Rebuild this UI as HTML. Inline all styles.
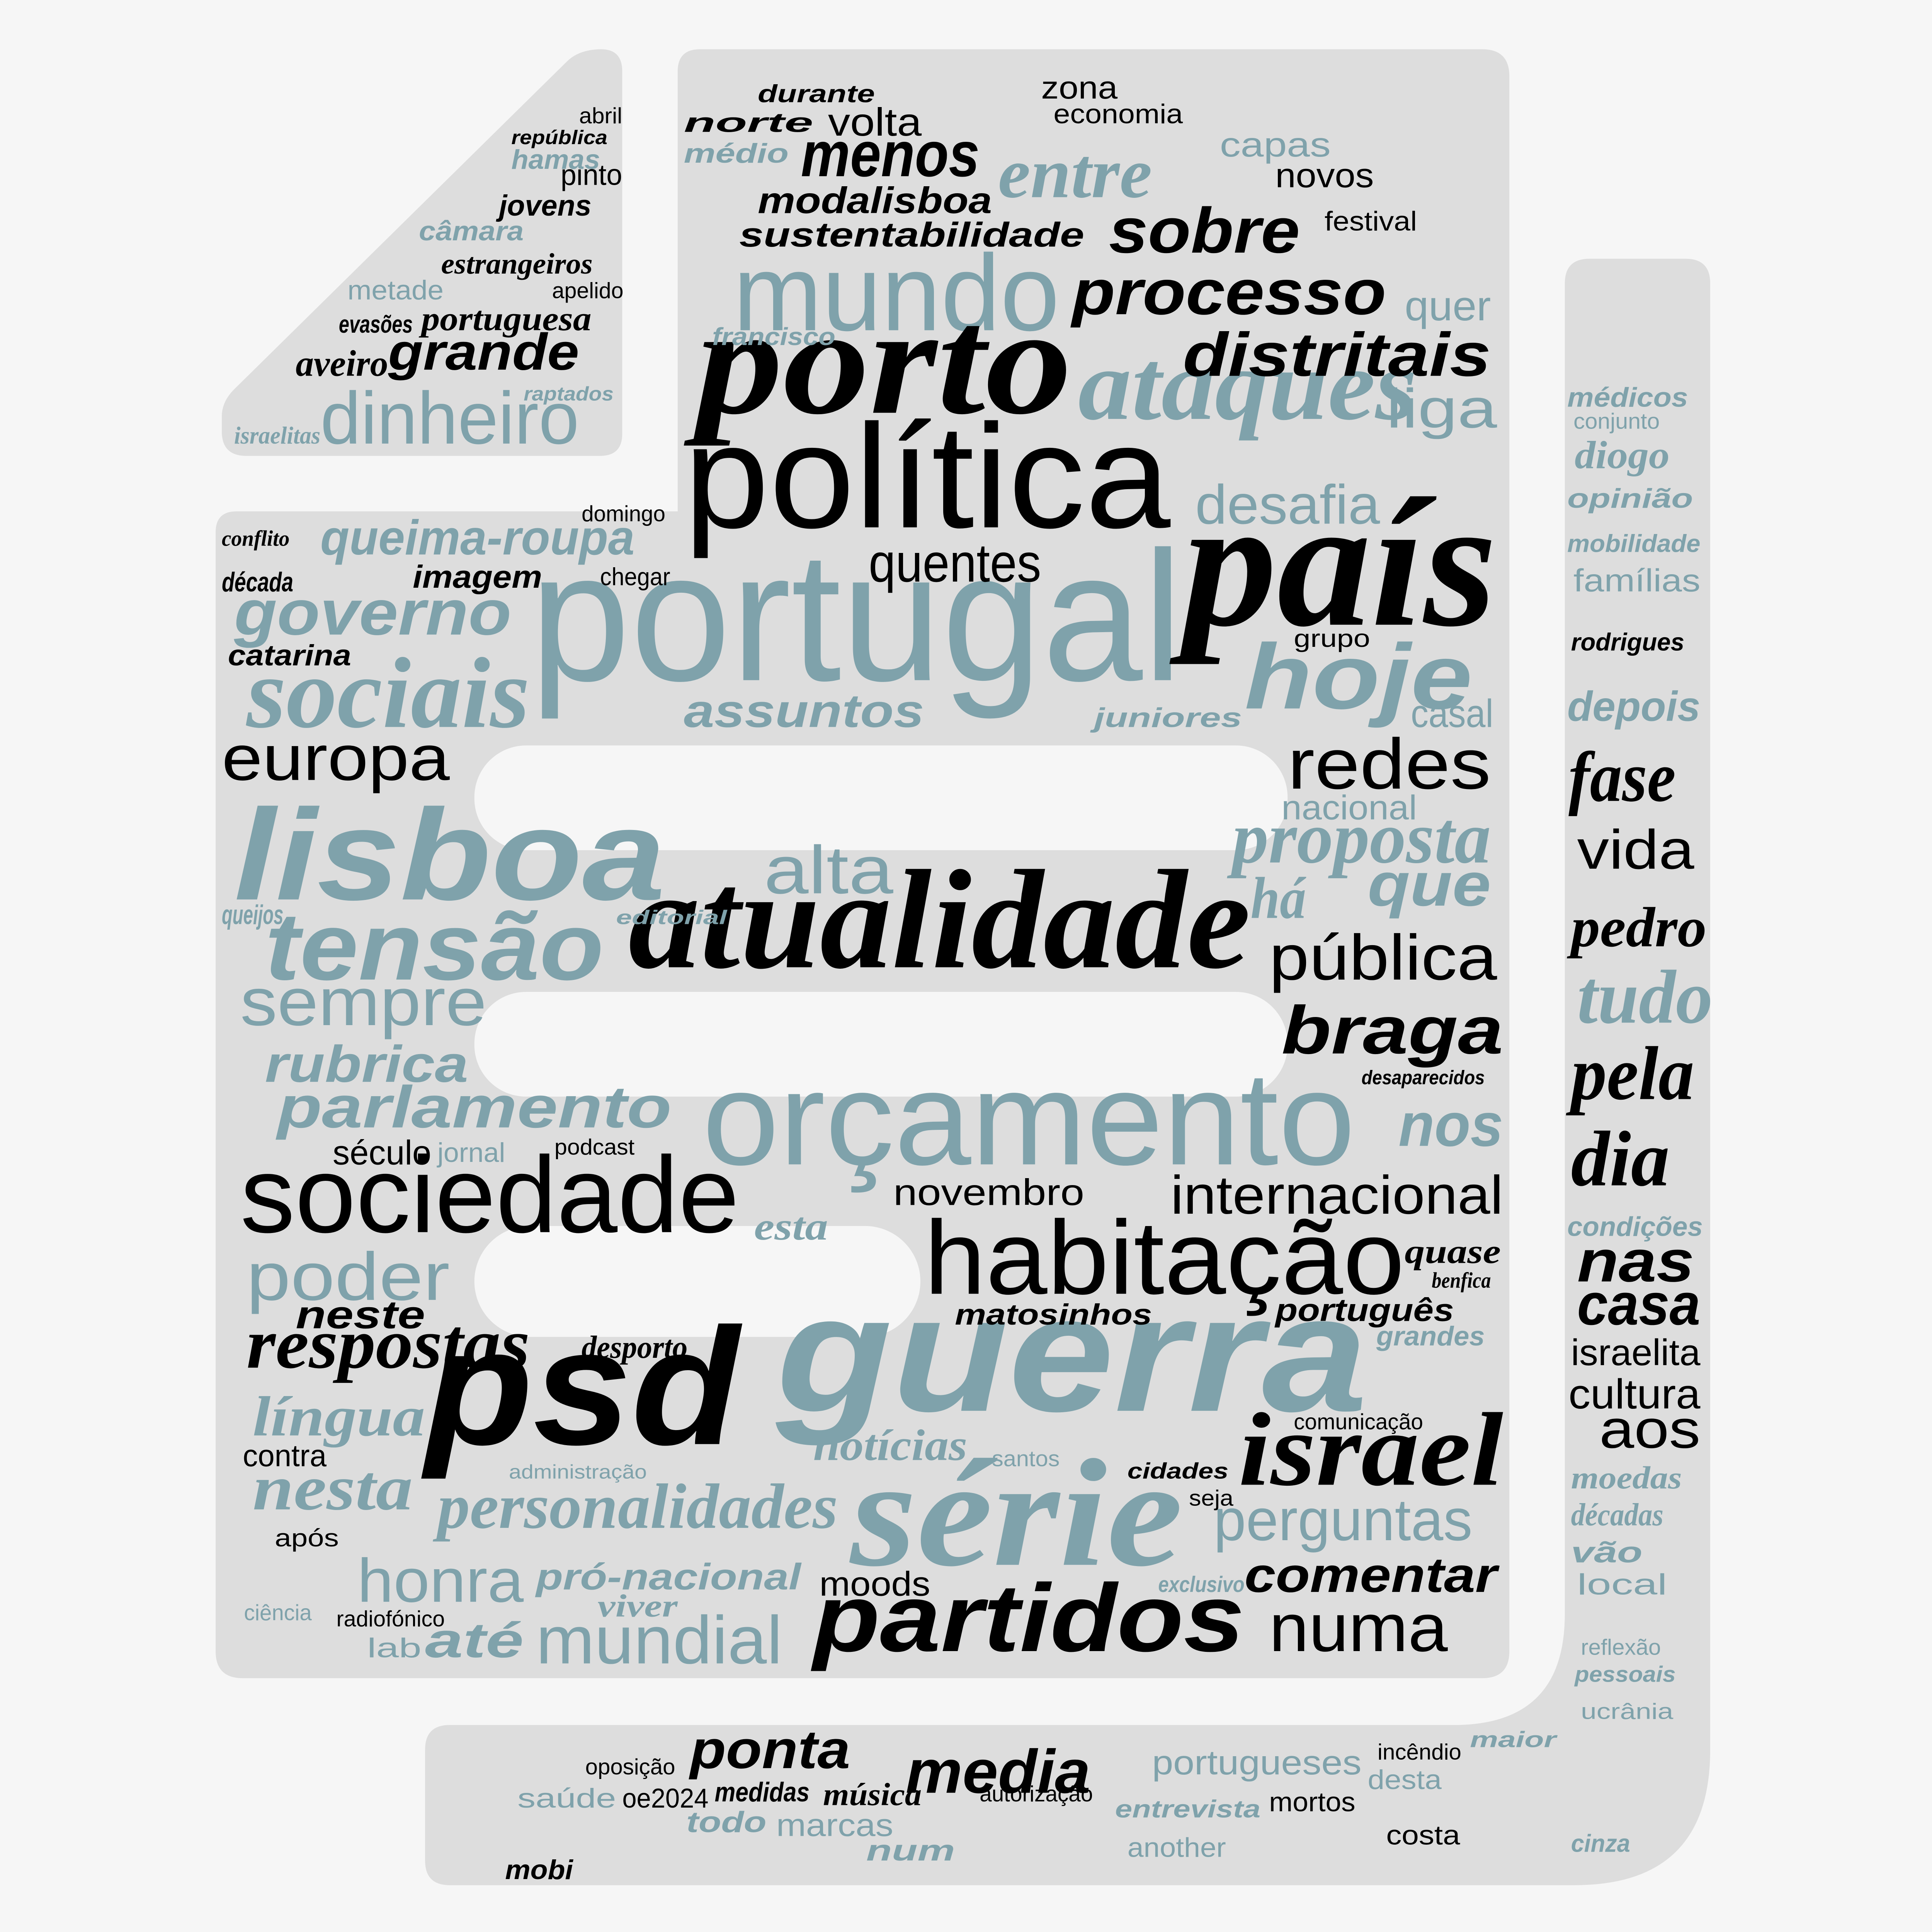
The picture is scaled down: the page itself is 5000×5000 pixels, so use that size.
<!DOCTYPE html>
<html>
<head>
<meta charset="utf-8">
<style>
html,body{margin:0;padding:0;background:#f6f6f6;}
svg{display:block;}
text{font-family:"Liberation Sans",sans-serif;}
.r{font-weight:normal;font-style:normal;}
.s{font-weight:bold;font-style:italic;font-family:"Liberation Serif",serif;}
.h{font-weight:bold;font-style:italic;}
.k{fill:#000;}
.u{fill:#7fa2ab;}
</style>
</head>
<body>
<svg width="5000" height="5000" viewBox="0 0 1568 1568">
<rect x="0" y="0" width="1568" height="1568" fill="#f6f6f6"/>
<g fill="#dddddd">
<path d="M488 40 Q505 40 505 58 L505 352 Q505 370 487 370 L200 370 Q180 370 180 350 L180 338 Q180 326 190 316 L460 50 Q470 40 488 40 Z"/>
<path d="M568 40 L1203 40 Q1225 40 1225 62 L1225 1340 Q1225 1362 1203 1362 L197 1362 Q175 1362 175 1340 L175 432 Q175 415 192 415 L550 415 L550 58 Q550 40 568 40 Z"/>
<path d="M1290 210 L1368 210 Q1388 210 1388 230 L1388 1420 Q1388 1530 1278 1530 L365 1530 Q345 1530 345 1510 L345 1420 Q345 1400 365 1400 L1180 1400 Q1270 1400 1270 1310 L1270 230 Q1270 210 1290 210 Z"/>
</g>
<g fill="#f6f6f6">
<rect x="385" y="605" width="660" height="85" rx="42"/>
<rect x="385" y="805" width="660" height="85" rx="42"/>
<rect x="385" y="995" width="362" height="90" rx="45"/>
</g>
<g>
<text class="r u" x="430" y="552" font-size="150" textLength="530" lengthAdjust="spacingAndGlyphs">portugal</text>
<text class="r k" x="555" y="428" font-size="120" textLength="395" lengthAdjust="spacingAndGlyphs">política</text>
<text class="r u" x="595" y="268" font-size="88" textLength="265" lengthAdjust="spacingAndGlyphs">mundo</text>
<text class="r k" x="195" y="1000" font-size="88" textLength="405" lengthAdjust="spacingAndGlyphs">sociedade</text>
<text class="r k" x="750" y="1050" font-size="85" textLength="390" lengthAdjust="spacingAndGlyphs">habitação</text>
<text class="r u" x="570" y="945" font-size="108" textLength="530" lengthAdjust="spacingAndGlyphs">orçamento</text>
<text class="r u" x="260" y="360" font-size="60" textLength="210" lengthAdjust="spacingAndGlyphs">dinheiro</text>
<text class="r k" x="180" y="633" font-size="52" textLength="185" lengthAdjust="spacingAndGlyphs">europa</text>
<text class="r k" x="1045" y="640" font-size="58" textLength="165" lengthAdjust="spacingAndGlyphs">redes</text>
<text class="r k" x="1030" y="795" font-size="52" textLength="185" lengthAdjust="spacingAndGlyphs">pública</text>
<text class="r k" x="950" y="985" font-size="44" textLength="270" lengthAdjust="spacingAndGlyphs">internacional</text>
<text class="r u" x="195" y="832" font-size="55" textLength="200" lengthAdjust="spacingAndGlyphs">sempre</text>
<text class="r u" x="200" y="1055" font-size="55" textLength="165" lengthAdjust="spacingAndGlyphs">poder</text>
<text class="r u" x="620" y="725" font-size="55" textLength="105" lengthAdjust="spacingAndGlyphs">alta</text>
<text class="r k" x="705" y="472" font-size="44" textLength="140" lengthAdjust="spacingAndGlyphs">quentes</text>
<text class="r u" x="970" y="425" font-size="45" textLength="150" lengthAdjust="spacingAndGlyphs">desafia</text>
<text class="r u" x="1125" y="347" font-size="45" textLength="90" lengthAdjust="spacingAndGlyphs">liga</text>
<text class="r u" x="985" y="1250" font-size="48" textLength="210" lengthAdjust="spacingAndGlyphs">perguntas</text>
<text class="r u" x="290" y="1300" font-size="50" textLength="135" lengthAdjust="spacingAndGlyphs">honra</text>
<text class="r u" x="435" y="1350" font-size="55" textLength="200" lengthAdjust="spacingAndGlyphs">mundial</text>
<text class="r k" x="1030" y="1340" font-size="55" textLength="145" lengthAdjust="spacingAndGlyphs">numa</text>
<text class="r k" x="725" y="978" font-size="30" textLength="155" lengthAdjust="spacingAndGlyphs">novembro</text>
<text class="r k" x="1280" y="705" font-size="45" textLength="95" lengthAdjust="spacingAndGlyphs">vida</text>
<text class="r k" x="1273" y="1143" font-size="34" textLength="107" lengthAdjust="spacingAndGlyphs">cultura</text>
<text class="r k" x="1298" y="1175" font-size="44" textLength="82" lengthAdjust="spacingAndGlyphs">aos</text>
<text class="r k" x="1275" y="1108" font-size="30" textLength="105" lengthAdjust="spacingAndGlyphs">israelita</text>
<text class="r k" x="672" y="110" font-size="32" textLength="76" lengthAdjust="spacingAndGlyphs">volta</text>
<text class="r u" x="990" y="127" font-size="28" textLength="90" lengthAdjust="spacingAndGlyphs">capas</text>
<text class="r k" x="1035" y="152" font-size="28" textLength="80" lengthAdjust="spacingAndGlyphs">novos</text>
<text class="r u" x="1140" y="260" font-size="34" textLength="70" lengthAdjust="spacingAndGlyphs">quer</text>
<text class="r u" x="1145" y="590" font-size="32" textLength="67" lengthAdjust="spacingAndGlyphs">casal</text>
<text class="r u" x="1040" y="665" font-size="28" textLength="110" lengthAdjust="spacingAndGlyphs">nacional</text>
<text class="r k" x="270" y="945" font-size="28" textLength="80" lengthAdjust="spacingAndGlyphs">século</text>
<text class="r u" x="355" y="943" font-size="22" textLength="55" lengthAdjust="spacingAndGlyphs">jornal</text>
<text class="r k" x="197" y="1190" font-size="25" textLength="68" lengthAdjust="spacingAndGlyphs">contra</text>
<text class="r k" x="845" y="80" font-size="26" textLength="62" lengthAdjust="spacingAndGlyphs">zona</text>
<text class="r k" x="855" y="100" font-size="22" textLength="105" lengthAdjust="spacingAndGlyphs">economia</text>
<text class="r k" x="1075" y="187" font-size="22" textLength="75" lengthAdjust="spacingAndGlyphs">festival</text>
<text class="r k" x="1050" y="1160" font-size="18" textLength="105" lengthAdjust="spacingAndGlyphs">comunicação</text>
<text class="r k" x="965" y="1222" font-size="18" textLength="36" lengthAdjust="spacingAndGlyphs">seja</text>
<text class="r k" x="455" y="150" font-size="24" textLength="50" lengthAdjust="spacingAndGlyphs">pinto</text>
<text class="r k" x="470" y="100" font-size="18" textLength="35" lengthAdjust="spacingAndGlyphs">abril</text>
<text class="r k" x="448" y="242" font-size="18" textLength="58" lengthAdjust="spacingAndGlyphs">apelido</text>
<text class="r u" x="282" y="243" font-size="22" textLength="78" lengthAdjust="spacingAndGlyphs">metade</text>
<text class="r k" x="450" y="937" font-size="18" textLength="65" lengthAdjust="spacingAndGlyphs">podcast</text>
<text class="r k" x="665" y="1295" font-size="28" textLength="90" lengthAdjust="spacingAndGlyphs">moods</text>
<text class="r k" x="223" y="1255" font-size="20" textLength="52" lengthAdjust="spacingAndGlyphs">após</text>
<text class="r u" x="198" y="1315" font-size="18" textLength="55" lengthAdjust="spacingAndGlyphs">ciência</text>
<text class="r k" x="273" y="1320" font-size="18" textLength="88" lengthAdjust="spacingAndGlyphs">radiofónico</text>
<text class="r u" x="298" y="1345" font-size="22" textLength="44" lengthAdjust="spacingAndGlyphs">lab</text>
<text class="r u" x="413" y="1200" font-size="16" textLength="112" lengthAdjust="spacingAndGlyphs">administração</text>
<text class="r u" x="805" y="1190" font-size="18" textLength="55" lengthAdjust="spacingAndGlyphs">santos</text>
<text class="r u" x="935" y="1440" font-size="28" textLength="170" lengthAdjust="spacingAndGlyphs">portugueses</text>
<text class="r u" x="420" y="1467" font-size="22" textLength="80" lengthAdjust="spacingAndGlyphs">saúde</text>
<text class="r k" x="505" y="1467" font-size="22" textLength="70" lengthAdjust="spacingAndGlyphs">oe2024</text>
<text class="r u" x="630" y="1490" font-size="26" textLength="95" lengthAdjust="spacingAndGlyphs">marcas</text>
<text class="r k" x="1030" y="1470" font-size="22" textLength="70" lengthAdjust="spacingAndGlyphs">mortos</text>
<text class="r u" x="1110" y="1452" font-size="22" textLength="60" lengthAdjust="spacingAndGlyphs">desta</text>
<text class="r u" x="915" y="1507" font-size="22" textLength="80" lengthAdjust="spacingAndGlyphs">another</text>
<text class="r k" x="1125" y="1497" font-size="22" textLength="60" lengthAdjust="spacingAndGlyphs">costa</text>
<text class="r k" x="1118" y="1428" font-size="18" textLength="68" lengthAdjust="spacingAndGlyphs">incêndio</text>
<text class="r k" x="795" y="1462" font-size="18" textLength="92" lengthAdjust="spacingAndGlyphs">autorização</text>
<text class="r k" x="475" y="1440" font-size="18" textLength="73" lengthAdjust="spacingAndGlyphs">oposição</text>
<text class="r k" x="1050" y="525" font-size="20" textLength="62" lengthAdjust="spacingAndGlyphs">grupo</text>
<text class="r k" x="487" y="475" font-size="20" textLength="57" lengthAdjust="spacingAndGlyphs">chegar</text>
<text class="r k" x="472" y="423" font-size="18" textLength="68" lengthAdjust="spacingAndGlyphs">domingo</text>
<text class="r u" x="1277" y="480" font-size="26" textLength="103" lengthAdjust="spacingAndGlyphs">famílias</text>
<text class="r u" x="1277" y="348" font-size="18" textLength="70" lengthAdjust="spacingAndGlyphs">conjunto</text>
<text class="r u" x="1283" y="1395" font-size="18" textLength="75" lengthAdjust="spacingAndGlyphs">ucrânia</text>
<text class="r u" x="1283" y="1343" font-size="18" textLength="65" lengthAdjust="spacingAndGlyphs">reflexão</text>
<text class="r u" x="1280" y="1294" font-size="24" textLength="73" lengthAdjust="spacingAndGlyphs">local</text>

<text class="s k" x="565" y="335" font-size="125" textLength="305" lengthAdjust="spacingAndGlyphs">porto</text>
<text class="s k" x="960" y="507" font-size="150" textLength="255" lengthAdjust="spacingAndGlyphs">país</text>
<text class="s k" x="510" y="785" font-size="115" textLength="505" lengthAdjust="spacingAndGlyphs">atualidade</text>
<text class="h k" x="345" y="1172" font-size="135" textLength="255" lengthAdjust="spacingAndGlyphs">psd</text>
<text class="h u" x="630" y="1145" font-size="135" textLength="480" lengthAdjust="spacingAndGlyphs">guerra</text>
<text class="s u" x="690" y="1270" font-size="125" textLength="270" lengthAdjust="spacingAndGlyphs">série</text>
<text class="h u" x="190" y="730" font-size="105" textLength="350" lengthAdjust="spacingAndGlyphs">lisboa</text>
<text class="h u" x="215" y="795" font-size="78" textLength="275" lengthAdjust="spacingAndGlyphs">tensão</text>
<text class="s u" x="200" y="590" font-size="82" textLength="230" lengthAdjust="spacingAndGlyphs">sociais</text>
<text class="h u" x="1010" y="575" font-size="75" textLength="185" lengthAdjust="spacingAndGlyphs">hoje</text>
<text class="s u" x="875" y="340" font-size="82" textLength="275" lengthAdjust="spacingAndGlyphs">ataques</text>
<text class="h k" x="870" y="255" font-size="52" textLength="255" lengthAdjust="spacingAndGlyphs">processo</text>
<text class="h k" x="960" y="305" font-size="50" textLength="250" lengthAdjust="spacingAndGlyphs">distritais</text>
<text class="h k" x="900" y="205" font-size="52" textLength="155" lengthAdjust="spacingAndGlyphs">sobre</text>
<text class="s u" x="810" y="160" font-size="58" textLength="125" lengthAdjust="spacingAndGlyphs">entre</text>
<text class="h k" x="650" y="143" font-size="52" textLength="145" lengthAdjust="spacingAndGlyphs">menos</text>
<text class="s u" x="1000" y="700" font-size="60" textLength="210" lengthAdjust="spacingAndGlyphs">proposta</text>
<text class="h u" x="1110" y="735" font-size="50" textLength="100" lengthAdjust="spacingAndGlyphs">que</text>
<text class="h k" x="1040" y="855" font-size="55" textLength="180" lengthAdjust="spacingAndGlyphs">braga</text>
<text class="h k" x="660" y="1340" font-size="78" textLength="350" lengthAdjust="spacingAndGlyphs">partidos</text>
<text class="s k" x="1005" y="1205" font-size="85" textLength="215" lengthAdjust="spacingAndGlyphs">israel</text>
<text class="s k" x="200" y="1110" font-size="58" textLength="230" lengthAdjust="spacingAndGlyphs">respostas</text>
<text class="s u" x="355" y="1240" font-size="52" textLength="325" lengthAdjust="spacingAndGlyphs">personalidades</text>
<text class="h k" x="315" y="300" font-size="42" textLength="155" lengthAdjust="spacingAndGlyphs">grande</text>
<text class="h u" x="190" y="515" font-size="52" textLength="225" lengthAdjust="spacingAndGlyphs">governo</text>
<text class="h u" x="260" y="450" font-size="40" textLength="255" lengthAdjust="spacingAndGlyphs">queima-roupa</text>
<text class="h u" x="225" y="915" font-size="48" textLength="320" lengthAdjust="spacingAndGlyphs">parlamento</text>
<text class="h u" x="215" y="878" font-size="42" textLength="165" lengthAdjust="spacingAndGlyphs">rubrica</text>
<text class="s u" x="205" y="1165" font-size="46" textLength="140" lengthAdjust="spacingAndGlyphs">língua</text>
<text class="s u" x="205" y="1225" font-size="52" textLength="130" lengthAdjust="spacingAndGlyphs">nesta</text>
<text class="h u" x="555" y="590" font-size="38" textLength="195" lengthAdjust="spacingAndGlyphs">assuntos</text>
<text class="h k" x="735" y="1455" font-size="50" textLength="150" lengthAdjust="spacingAndGlyphs">media</text>
<text class="h k" x="560" y="1435" font-size="44" textLength="130" lengthAdjust="spacingAndGlyphs">ponta</text>
<text class="s k" x="1273" y="650" font-size="58" textLength="87" lengthAdjust="spacingAndGlyphs">fase</text>
<text class="s k" x="1275" y="768" font-size="46" textLength="110" lengthAdjust="spacingAndGlyphs">pedro</text>
<text class="s u" x="1280" y="830" font-size="62" textLength="110" lengthAdjust="spacingAndGlyphs">tudo</text>
<text class="s k" x="1275" y="892" font-size="62" textLength="100" lengthAdjust="spacingAndGlyphs">pela</text>
<text class="s k" x="1275" y="962" font-size="64" textLength="80" lengthAdjust="spacingAndGlyphs">dia</text>
<text class="h k" x="1280" y="1040" font-size="48" textLength="95" lengthAdjust="spacingAndGlyphs">nas</text>
<text class="h k" x="1280" y="1075" font-size="48" textLength="100" lengthAdjust="spacingAndGlyphs">casa</text>
<text class="h u" x="1135" y="930" font-size="50" textLength="85" lengthAdjust="spacingAndGlyphs">nos</text>
<text class="s u" x="1015" y="745" font-size="48" textLength="45" lengthAdjust="spacingAndGlyphs">há</text>
<text class="h k" x="1010" y="1292" font-size="40" textLength="205" lengthAdjust="spacingAndGlyphs">comentar</text>
<text class="h k" x="615" y="173" font-size="30" textLength="190" lengthAdjust="spacingAndGlyphs">modalisboa</text>
<text class="h k" x="600" y="200" font-size="28" textLength="280" lengthAdjust="spacingAndGlyphs">sustentabilidade</text>
<text class="h u" x="345" y="1345" font-size="40" textLength="80" lengthAdjust="spacingAndGlyphs">até</text>
<text class="h k" x="240" y="1078" font-size="32" textLength="105" lengthAdjust="spacingAndGlyphs">neste</text>
<text class="h k" x="775" y="1075" font-size="24" textLength="160" lengthAdjust="spacingAndGlyphs">matosinhos</text>
<text class="h k" x="1035" y="1072" font-size="26" textLength="145" lengthAdjust="spacingAndGlyphs">português</text>
<text class="s u" x="660" y="1185" font-size="36" textLength="125" lengthAdjust="spacingAndGlyphs">notícias</text>
<text class="h u" x="1272" y="585" font-size="34" textLength="108" lengthAdjust="spacingAndGlyphs">depois</text>
<text class="s u" x="1278" y="380" font-size="32" textLength="77" lengthAdjust="spacingAndGlyphs">diogo</text>
<text class="h k" x="335" y="477" font-size="26" textLength="105" lengthAdjust="spacingAndGlyphs">imagem</text>
<text class="h k" x="185" y="540" font-size="24" textLength="100" lengthAdjust="spacingAndGlyphs">catarina</text>
<text class="h k" x="405" y="175" font-size="24" textLength="75" lengthAdjust="spacingAndGlyphs">jovens</text>
<text class="s k" x="240" y="305" font-size="30" textLength="75" lengthAdjust="spacingAndGlyphs">aveiro</text>
<text class="s k" x="342" y="268" font-size="28" textLength="138" lengthAdjust="spacingAndGlyphs">portuguesa</text>
<text class="h k" x="275" y="270" font-size="20" textLength="60" lengthAdjust="spacingAndGlyphs">evasões</text>
<text class="s k" x="358" y="222" font-size="24" textLength="123" lengthAdjust="spacingAndGlyphs">estrangeiros</text>
<text class="h u" x="340" y="195" font-size="22" textLength="85" lengthAdjust="spacingAndGlyphs">câmara</text>
<text class="h u" x="415" y="137" font-size="22" textLength="72" lengthAdjust="spacingAndGlyphs">hamas</text>
<text class="h k" x="415" y="117" font-size="16" textLength="78" lengthAdjust="spacingAndGlyphs">república</text>
<text class="h u" x="1272" y="330" font-size="22" textLength="98" lengthAdjust="spacingAndGlyphs">médicos</text>
<text class="h u" x="1272" y="412" font-size="22" textLength="102" lengthAdjust="spacingAndGlyphs">opinião</text>
<text class="h u" x="1272" y="448" font-size="20" textLength="108" lengthAdjust="spacingAndGlyphs">mobilidade</text>
<text class="h k" x="1275" y="528" font-size="20" textLength="92" lengthAdjust="spacingAndGlyphs">rodrigues</text>
<text class="h u" x="1272" y="1003" font-size="22" textLength="110" lengthAdjust="spacingAndGlyphs">condições</text>
<text class="s u" x="1275" y="1208" font-size="26" textLength="90" lengthAdjust="spacingAndGlyphs">moedas</text>
<text class="s u" x="1275" y="1238" font-size="26" textLength="75" lengthAdjust="spacingAndGlyphs">décadas</text>
<text class="h u" x="1275" y="1268" font-size="24" textLength="58" lengthAdjust="spacingAndGlyphs">vão</text>
<text class="h k" x="555" y="107" font-size="22" textLength="105" lengthAdjust="spacingAndGlyphs">norte</text>
<text class="h u" x="555" y="132" font-size="22" textLength="85" lengthAdjust="spacingAndGlyphs">médio</text>
<text class="h k" x="615" y="83" font-size="20" textLength="95" lengthAdjust="spacingAndGlyphs">durante</text>
<text class="h u" x="578" y="280" font-size="20" textLength="100" lengthAdjust="spacingAndGlyphs">francisco</text>
<text class="h u" x="888" y="590" font-size="22" textLength="120" lengthAdjust="spacingAndGlyphs">juniores</text>
<text class="h k" x="410" y="1525" font-size="22" textLength="55" lengthAdjust="spacingAndGlyphs">mobi</text>
<text class="h u" x="557" y="1487" font-size="24" textLength="65" lengthAdjust="spacingAndGlyphs">todo</text>
<text class="h k" x="580" y="1462" font-size="22" textLength="77" lengthAdjust="spacingAndGlyphs">medidas</text>
<text class="s k" x="668" y="1465" font-size="26" textLength="80" lengthAdjust="spacingAndGlyphs">música</text>
<text class="h u" x="703" y="1510" font-size="24" textLength="72" lengthAdjust="spacingAndGlyphs">num</text>
<text class="h u" x="905" y="1475" font-size="20" textLength="118" lengthAdjust="spacingAndGlyphs">entrevista</text>
<text class="h u" x="1193" y="1418" font-size="18" textLength="70" lengthAdjust="spacingAndGlyphs">maior</text>
<text class="h u" x="1275" y="1503" font-size="20" textLength="48" lengthAdjust="spacingAndGlyphs">cinza</text>
<text class="h u" x="1278" y="1365" font-size="18" textLength="82" lengthAdjust="spacingAndGlyphs">pessoais</text>
<text class="h u" x="940" y="1292" font-size="18" textLength="70" lengthAdjust="spacingAndGlyphs">exclusivo</text>
<text class="h k" x="915" y="1200" font-size="18" textLength="82" lengthAdjust="spacingAndGlyphs">cidades</text>
<text class="h u" x="435" y="1290" font-size="30" textLength="215" lengthAdjust="spacingAndGlyphs">pró-nacional</text>
<text class="s u" x="485" y="1312" font-size="26" textLength="65" lengthAdjust="spacingAndGlyphs">viver</text>
<text class="s k" x="472" y="1102" font-size="26" textLength="86" lengthAdjust="spacingAndGlyphs">desporto</text>
<text class="h u" x="1117" y="1092" font-size="22" textLength="88" lengthAdjust="spacingAndGlyphs">grandes</text>
<text class="s k" x="1140" y="1025" font-size="28" textLength="78" lengthAdjust="spacingAndGlyphs">quase</text>
<text class="s k" x="1162" y="1045" font-size="18" textLength="48" lengthAdjust="spacingAndGlyphs">benfica</text>
<text class="s u" x="612" y="1006" font-size="32" textLength="60" lengthAdjust="spacingAndGlyphs">esta</text>
<text class="h k" x="1105" y="880" font-size="16" textLength="100" lengthAdjust="spacingAndGlyphs">desaparecidos</text>
<text class="h u" x="500" y="750" font-size="16" textLength="90" lengthAdjust="spacingAndGlyphs">editorial</text>
<text class="h u" x="180" y="750" font-size="22" textLength="50" lengthAdjust="spacingAndGlyphs">queijos</text>
<text class="s k" x="180" y="443" font-size="18" textLength="55" lengthAdjust="spacingAndGlyphs">conflito</text>
<text class="h k" x="180" y="480" font-size="22" textLength="58" lengthAdjust="spacingAndGlyphs">década</text>
<text class="s u" x="190" y="360" font-size="20" textLength="70" lengthAdjust="spacingAndGlyphs">israelitas</text>
<text class="h u" x="425" y="325" font-size="16" textLength="73" lengthAdjust="spacingAndGlyphs">raptados</text>
</g>
</svg>
</body>
</html>
